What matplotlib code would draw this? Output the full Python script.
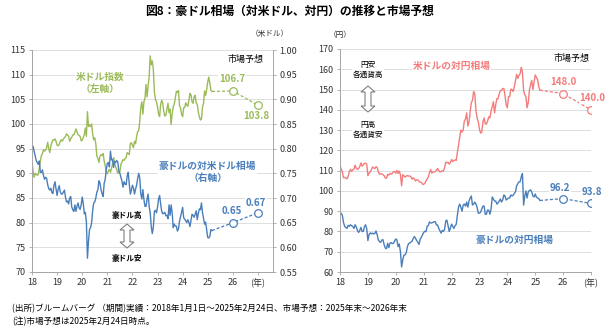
import numpy as np
import matplotlib
matplotlib.use("Agg")
import matplotlib.pyplot as plt
from matplotlib.patches import Polygon

plt.rcParams['font.family'] = ['Noto Sans CJK JP', 'DejaVu Sans']

# semi-monthly readings, 2018-01 .. 2025-02-24
usd_index = [
    92.3, 90.5, 89.2, 90.0, 89.8, 89.6, 89.8, 91.0, 92.5, 93.6, 94.0, 94.8, 94.5, 94.7, 95.2, 96.3, 95.0, 94.2, 95.5, 96.2, 96.8, 96.7, 97.0, 96.5,
    95.7, 95.6, 95.8, 96.5, 96.8, 96.5, 97.0, 97.2, 97.5, 98.0, 97.8, 97.5, 96.5, 97.0, 97.3, 97.8, 97.8, 98.3, 99.0, 98.5, 97.8, 97.7, 97.5, 96.6,
    96.7, 97.3, 97.8, 99.2, 97.5, 102.5, 99.5, 99.8, 99.5, 100.0, 98.0, 96.8, 97.2, 96.0, 93.5, 93.0, 92.2, 93.5, 93.8, 93.6, 94.0, 92.5, 91.5, 90.2,
    89.9, 90.5, 90.8, 90.2, 91.0, 91.9, 93.2, 92.3, 91.2, 90.8, 90.0, 90.2, 90.3, 91.8, 92.3, 92.8, 92.6, 93.0, 93.2, 94.2, 94.0, 93.8, 96.0, 96.2,
    95.7, 95.2, 96.5, 96.0, 97.4, 98.5, 98.6, 100.5, 103.3, 104.5, 102.0, 104.5, 105.2, 108.0, 105.5, 107.8, 109.5, 113.8, 112.0, 112.8, 111.0, 106.5, 105.0, 104.5,
    103.5, 102.0, 101.5, 104.0, 104.8, 104.2, 102.5, 101.6, 101.8, 103.0, 104.2, 102.3, 103.0, 99.9, 102.0, 103.5, 104.0, 105.3, 106.6, 106.4, 106.8, 103.8, 103.2, 102.0,
    101.5, 103.3, 103.4, 104.3, 103.8, 103.6, 104.8, 106.2, 105.9, 104.5, 104.2, 105.5, 105.8, 104.2, 104.0, 102.4, 101.5, 100.8, 101.0, 103.5, 104.2, 106.7, 105.8, 107.0,
    108.5, 109.5, 108.3, 106.8, 106.6,
]
aud_usd = [
    0.800, 0.805, 0.795, 0.785, 0.776, 0.772, 0.768, 0.775, 0.752, 0.752, 0.757, 0.745, 0.738, 0.742, 0.740, 0.727, 0.719, 0.716, 0.720, 0.711, 0.709, 0.726, 0.733, 0.718,
    0.705, 0.718, 0.725, 0.713, 0.708, 0.708, 0.712, 0.716, 0.702, 0.692, 0.694, 0.688, 0.700, 0.703, 0.682, 0.676, 0.673, 0.686, 0.673, 0.683, 0.690, 0.680, 0.677, 0.686,
    0.702, 0.689, 0.668, 0.671, 0.651, 0.578, 0.612, 0.636, 0.640, 0.650, 0.675, 0.690, 0.692, 0.700, 0.712, 0.717, 0.735, 0.730, 0.717, 0.709, 0.703, 0.730, 0.738, 0.758,
    0.770, 0.772, 0.763, 0.795, 0.777, 0.778, 0.762, 0.774, 0.772, 0.776, 0.773, 0.755, 0.750, 0.742, 0.734, 0.722, 0.733, 0.728, 0.727, 0.745, 0.752, 0.728, 0.708, 0.716,
    0.726, 0.720, 0.708, 0.718, 0.726, 0.739, 0.750, 0.741, 0.709, 0.698, 0.717, 0.697, 0.683, 0.683, 0.698, 0.708, 0.683, 0.670, 0.642, 0.628, 0.641, 0.673, 0.675, 0.670,
    0.681, 0.698, 0.705, 0.688, 0.673, 0.668, 0.669, 0.671, 0.664, 0.665, 0.658, 0.686, 0.665, 0.686, 0.670, 0.640, 0.647, 0.643, 0.643, 0.633, 0.637, 0.653, 0.662, 0.671,
    0.681, 0.660, 0.657, 0.654, 0.650, 0.656, 0.651, 0.642, 0.654, 0.667, 0.665, 0.661, 0.667, 0.674, 0.656, 0.669, 0.678, 0.676, 0.690, 0.670, 0.659, 0.647, 0.651, 0.636,
    0.620, 0.619, 0.622, 0.636, 0.634,
]
usd_jpy = [
    112.5, 110.8, 109.5, 106.5, 106.7, 106.3, 106.0, 107.2, 109.5, 110.6, 109.6, 110.5, 110.8, 112.7, 111.2, 110.6, 111.0, 112.0, 113.8, 112.2, 112.8, 113.6, 113.6, 113.3,
    107.5, 108.8, 109.4, 110.5, 111.8, 111.3, 111.0, 112.0, 111.5, 109.6, 108.2, 108.5, 108.4, 108.0, 107.5, 106.3, 106.3, 108.1, 107.8, 108.6, 108.2, 108.7, 109.5, 109.6,
    108.7, 110.1, 108.6, 109.8, 108.0, 102.5, 108.0, 107.5, 106.8, 107.3, 107.6, 107.3, 107.4, 107.0, 105.8, 106.5, 105.9, 104.9, 105.5, 105.4, 104.7, 104.3, 104.3, 103.3,
    103.2, 103.8, 104.9, 106.0, 106.8, 109.0, 110.5, 108.8, 109.3, 109.3, 109.6, 110.2, 111.1, 110.0, 109.4, 109.6, 110.0, 109.8, 111.4, 114.2, 113.9, 114.1, 113.2, 114.0,
    115.5, 114.5, 115.0, 115.3, 115.0, 119.0, 122.5, 126.5, 130.0, 129.0, 130.0, 134.5, 135.5, 138.5, 132.0, 134.0, 139.0, 143.5, 144.7, 149.0, 148.0, 139.5, 136.0, 134.0,
    130.5, 128.5, 129.0, 134.0, 136.0, 133.0, 133.0, 134.5, 136.5, 136.0, 139.5, 141.5, 144.0, 138.5, 142.5, 145.5, 145.5, 147.8, 149.5, 149.5, 150.5, 150.5, 147.0, 142.5,
    141.0, 146.5, 146.5, 150.2, 150.0, 149.0, 151.3, 154.5, 157.5, 155.5, 157.0, 157.8, 161.0, 158.5, 149.5, 147.5, 146.5, 141.0, 143.5, 149.8, 152.5, 154.5, 150.0, 153.5,
    157.2, 156.0, 155.0, 151.5, 149.7,
]
aud_jpy = [
    88.5, 89.0, 88.0, 84.5, 82.5, 82.0, 81.5, 83.0, 82.5, 83.3, 82.8, 82.5, 81.5, 83.3, 82.3, 80.5, 79.5, 80.5, 82.0, 80.0, 80.0, 82.3, 83.3, 81.4,
    75.5, 78.5, 79.3, 78.8, 79.2, 78.8, 79.0, 80.2, 78.3, 75.8, 75.0, 74.6, 75.8, 75.9, 73.4, 71.8, 71.5, 74.2, 72.0, 74.2, 74.5, 74.0, 74.2, 75.2,
    76.3, 75.8, 72.5, 73.8, 70.0, 62.5, 66.0, 68.3, 68.5, 69.5, 72.5, 74.0, 74.3, 74.8, 75.2, 76.5, 77.5, 76.6, 75.5, 74.7, 73.6, 76.2, 77.1, 78.3,
    79.5, 80.1, 79.9, 82.5, 83.0, 84.7, 84.2, 84.2, 84.5, 84.8, 84.8, 83.2, 83.2, 81.5, 80.4, 79.2, 80.5, 80.0, 81.0, 85.2, 85.6, 82.7, 80.0, 81.7,
    83.6, 82.5, 81.5, 82.8, 83.5, 88.0, 92.0, 93.5, 92.0, 90.0, 93.0, 93.5, 92.5, 94.5, 92.0, 95.0, 96.5, 97.5, 93.0, 93.5, 94.5, 93.5, 91.8, 89.0,
    89.0, 89.5, 91.0, 92.5, 92.5, 88.5, 88.5, 90.5, 90.5, 88.5, 91.0, 97.0, 96.0, 95.0, 95.0, 93.5, 94.0, 95.0, 96.0, 94.5, 95.5, 98.0, 97.5, 95.5,
    96.0, 96.5, 96.5, 98.0, 97.5, 97.8, 98.8, 99.5, 102.5, 103.5, 104.5, 104.5, 107.0, 108.5, 93.0, 97.5, 100.0, 96.5, 99.5, 100.2, 100.5, 99.5, 97.5, 97.0,
    98.5, 97.0, 96.5, 96.3, 95.3,
]

# market forecasts (end 2025, end 2026)
fc_years = [2026, 2027]
usd_index_fc = [106.7, 103.8]
aud_usd_fc = [0.65, 0.67]
usd_jpy_fc = [148.0, 140.0]
aud_jpy_fc = [96.2, 93.8]

year_ticks = list(range(2018, 2028))
year_labels = ["18", "19", "20", "21", "22", "23", "24", "25", "26", "(年)"]

GREEN = "#9BBB59"
BLUE = "#4A7EBB"
RED = "#F47C7C"
GRID = "#D9D9D9"
SPINE = "#A6A6A6"
TXT = "#333333"

dates = 2018 + np.arange(len(usd_index)) / 24

BOX = dict(fc='white', ec='none', pad=0.6)


def forecast(ax, last_x, last_y, fc, color):
    ax.plot([last_x] + fc_years, [last_y] + fc, color=color, lw=0.9,
            ls=(0, (2.5, 1.5)))
    ax.plot(fc_years, fc, 'o', ms=5.5, mfc='white', mec=color, mew=0.9)


def label(ax, x, y, s, color, size=7, bold=True, **kw):
    ax.text(x, y, s, color=color, fontsize=size,
            fontweight='bold' if bold else 'normal', ha='center', va='center',
            bbox=BOX, **kw)


def style(ax):
    ax.set_xticks(year_ticks)
    ax.set_xticklabels(year_labels)
    ax.tick_params(labelsize=6.5, colors=TXT, length=2.5, width=0.6,
                   color=SPINE, pad=2)
    for s in ax.spines.values():
        s.set_color(SPINE)
        s.set_linewidth(0.7)
    ax.spines['top'].set_visible(False)
    ax.grid(axis='y', color=GRID, lw=0.6)
    ax.set_axisbelow(True)


def double_arrow(fig, cx, y_top, y_bot, hw=7, sw=3, hl=6):
    W, H = 610, 334
    pts = [(cx, y_top), (cx + hw, y_top + hl), (cx + sw, y_top + hl),
           (cx + sw, y_bot - hl), (cx + hw, y_bot - hl), (cx, y_bot),
           (cx - hw, y_bot - hl), (cx - sw, y_bot - hl), (cx - sw, y_top + hl),
           (cx - hw, y_top + hl)]
    pts = [(x / W, 1 - y / H) for x, y in pts]
    fig.add_artist(Polygon(pts, closed=True, transform=fig.transFigure,
                           fc='white', ec='#808080', lw=0.8))


fig = plt.figure(figsize=(6.1, 3.34), dpi=100)

# ---- left panel: USD index & AUD/USD
ax = fig.add_axes([32 / 610, 62 / 334, 241 / 610, 222 / 334])
ax.plot(dates, usd_index, color=GREEN, lw=1.0)
forecast(ax, dates[-1], usd_index[-1], usd_index_fc, GREEN)
ax.set_xlim(2018, 2027.6)
ax.set_ylim(70, 115)
ax.set_yticks(range(70, 116, 5))
style(ax)
ax.spines['right'].set_visible(False)

ax2 = ax.twinx()
ax2.plot(dates, aud_usd, color=BLUE, lw=1.0)
forecast(ax2, dates[-1], aud_usd[-1], aud_usd_fc, BLUE)
ax2.set_ylim(0.55, 1.00)
ax2.set_yticks(np.arange(0.55, 1.001, 0.05))
ax2.set_yticklabels([f"{v:.2f}" for v in np.arange(0.55, 1.001, 0.05)])
ax2.tick_params(labelsize=6.5, colors=TXT, length=2.5, width=0.6,
                color=SPINE, pad=2)
for s in ax2.spines.values():
    s.set_color(SPINE)
    s.set_linewidth(0.7)
ax2.spines['top'].set_visible(False)

label(ax2, 2020.7, 0.933, "米ドル指数\n（左軸）", GREEN, linespacing=1.3)
label(ax2, 2025.0, 0.753, "豪ドルの対米ドル相場\n（右軸）", BLUE, linespacing=1.3)
label(ax2, 2026.5, 0.980, "市場予想", 'black', size=6.5, bold=False)
label(ax2, 2025.97, 0.941, "106.7", GREEN)
label(ax2, 2026.92, 0.866, "103.8", GREEN)
label(ax2, 2025.97, 0.674, "0.65", BLUE)
label(ax2, 2026.92, 0.690, "0.67", BLUE)
label(ax2, 2021.78, 0.665, "豪ドル高", 'black', size=5.5)
label(ax2, 2021.78, 0.578, "豪ドル安", 'black', size=5.5)
double_arrow(fig, 127, 224, 248)
fig.text(270 / 610, 1 - 34 / 334, "（米ドル）", fontsize=5.5, color=TXT,
         ha='center', va='center')

# ---- right panel: JPY crosses
bx = fig.add_axes([340 / 610, 62 / 334, 251 / 610, 223 / 334])
bx.plot(dates, usd_jpy, color=RED, lw=1.0)
bx.plot(dates, aud_jpy, color=BLUE, lw=1.0)
forecast(bx, dates[-1], usd_jpy[-1], usd_jpy_fc, RED)
forecast(bx, dates[-1], aud_jpy[-1], aud_jpy_fc, BLUE)
bx.set_xlim(2018, 2027)
bx.set_ylim(60, 170)
bx.set_yticks(range(60, 171, 10))
style(bx)
bx.spines['right'].set_visible(False)

label(bx, 2026.3, 165.6, "市場予想", 'black', size=6.5, bold=False)
label(bx, 2022.0, 161.6, "米ドルの対円相場", RED)
label(bx, 2019.0, 159.6, "円安\n各通貨高", 'black', size=5.5, bold=False,
      linespacing=1.4)
label(bx, 2019.0, 130.0, "円高\n各通貨安", 'black', size=5.5, bold=False,
      linespacing=1.4)
double_arrow(fig, 368, 86, 112)
label(bx, 2026.0, 153.7, "148.0", RED)
label(bx, 2027.05, 145.8, "140.0", RED)
label(bx, 2024.27, 75.8, "豪ドルの対円相場", BLUE)
label(bx, 2025.9, 101.4, "96.2", BLUE)
label(bx, 2027.05, 99.5, "93.8", BLUE)
fig.text(340 / 610, 1 - 35 / 334, "（円）", fontsize=5.5, color=TXT,
         ha='center', va='center')

# ---- title & notes
fig.text(290 / 610, 1 - 11 / 334, "図8：豪ドル相場（対米ドル、対円）の推移と市場予想",
         fontsize=8.5, fontweight='bold', ha='center', va='center')
fig.text(12 / 610, 1 - 309 / 334,
         "(出所)ブルームバーグ （期間)実績：2018年1月1日～2025年2月24日、市場予想：2025年末～2026年末",
         fontsize=6.2, ha='left', va='center')
fig.text(12 / 610, 1 - 322 / 334, "(注)市場予想は2025年2月24日時点。",
         fontsize=6.2, ha='left', va='center')

fig.savefig("out.png", dpi=100)
